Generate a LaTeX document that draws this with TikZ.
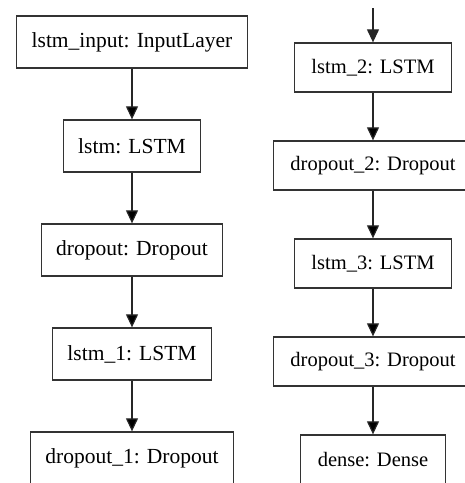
\documentclass[tikz,border=0pt]{standalone}
\usepackage{fontspec}
\setmainfont{Liberation Serif}
\usetikzlibrary{positioning, arrows.meta}

\begin{document}
\begin{tikzpicture}[x=1pt,y=-1pt,on grid,node distance=104pt,
    layer/.style={draw=black!80,line width=1.3pt,inner xsep=15pt,minimum height=52pt,
      font=\rmfamily\fontsize{21.5}{24}\selectfont},
    flow/.style={-{Triangle[width=12pt,length=13pt]},line width=1.2pt,draw=black!85}]
  \useasboundingbox (0,0) rectangle (465,483);
  \clip (0,0) rectangle (465,483);
  % first half of the model
  \node[layer] (lstm_input) at (132,42) {lstm\_input: InputLayer};
  \node[layer] (lstm) [below=of lstm_input] {lstm: LSTM};
  \node[layer] (dropout) [below=of lstm] {dropout: Dropout};
  \node[layer] (lstm_1) [below=of dropout] {lstm\_1: LSTM};
  \node[layer] (dropout_1) [below=of lstm_1] {dropout\_1: Dropout};
  % second half, fed from above
  \begin{scope}[node distance=98pt,
      layer/.append style={minimum height=49pt,inner xsep=17pt,
        font=\rmfamily\fontsize{20.5}{23}\selectfont}]
    \coordinate (feed) at (373,8);
    \node[layer] (lstm_2) at (373,67.5) {lstm\_2: LSTM};
    \node[layer] (dropout_2) [below=of lstm_2] {dropout\_2: Dropout};
    \node[layer] (lstm_3) [below=of dropout_2] {lstm\_3: LSTM};
    \node[layer] (dropout_3) [below=of lstm_3] {dropout\_3: Dropout};
    \node[layer] (dense) [below=of dropout_3] {dense: Dense};
  \end{scope}
  \draw[flow] (feed) -- (lstm_2);
  \path[flow]
  (lstm_input) edge (lstm)
  (lstm) edge (dropout)
  (dropout) edge (lstm_1)
  (lstm_1) edge (dropout_1)
  (lstm_2) edge (dropout_2)
  (dropout_2) edge (lstm_3)
  (lstm_3) edge (dropout_3)
  (dropout_3) edge (dense);
\end{tikzpicture}
\end{document}
